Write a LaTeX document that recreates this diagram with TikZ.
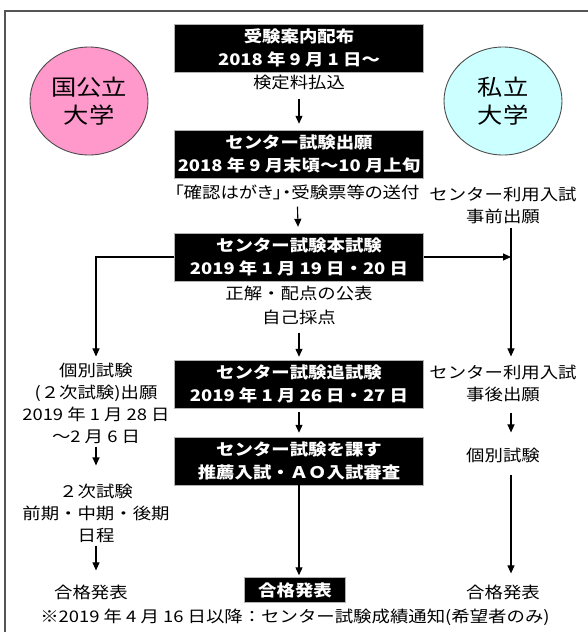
\documentclass[tikz,border=0pt]{standalone}
\usepackage{fontspec}
\usetikzlibrary{arrows.meta,shapes.geometric}
\newfontfamily\jp[FakeStretch=1.15]{Noto Sans CJK JP}
\newfontfamily\jpprop[FakeStretch=1.15, RawFeature=+palt]{Noto Sans CJK JP}
\definecolor{unipink}{HTML}{FF99CC}
\definecolor{unicyan}{HTML}{CCFFFF}
\definecolor{framegray}{HTML}{555555}

\begin{document}
\begin{tikzpicture}[
        x=1pt, y=-1pt,
        stagebox/.style={rectangle, draw=gray!60, fill=black, text=white, minimum width=249pt, minimum height=48pt, inner sep=1pt, align=center, font=\jp\bfseries\fontsize{16}{23}\selectfont},
        note/.style={align=center, inner sep=1pt, font=\jp\fontsize{16}{22}\selectfont},
        uni/.style={ellipse, draw=gray!60!black, line width=0.9pt, minimum width=118pt, minimum height=108pt, align=center, font=\jp\fontsize{22}{28}\selectfont},
        arrow/.style={-{Triangle[length=8pt,width=7pt]}, line width=1.1pt, shorten <=4pt, shorten >=4pt}
    ]
        \clip (0,0) rectangle (588,632);
        \draw[framegray, line width=1.5pt] (5,11) rectangle (600,650);

        % Universities
        \node[uni, fill=unipink] (national) at (89,101) {国公立\\大学};
        \node[uni, fill=unicyan] (private) at (503,101) {私立\\大学};

        % Center column
        \node[stagebox] (guide) at (299,48) {受験案内配布\\2018 年 9 月 1 日～};
        \node[note] (fee) at (299,82) {検定料払込};
        \node[stagebox] (apply) at (299,154) {センター試験出願\\2018 年 9 月末頃～10 月上旬};
        \node[note, font=\jpprop\fontsize{16}{22}\selectfont] (card) at (297,192) {「確認はがき」・受験票等の送付};
        \node[stagebox] (main) at (299,257) {センター試験本試験\\2019 年 1 月 19 日・20 日};
        \node[note, font=\jp\fontsize{16}{24}\selectfont] (answer) at (299,305) {正解・配点の公表\\自己採点};
        \node[stagebox] (makeup) at (299,384) {センター試験追試験\\2019 年 1 月 26 日・27 日};
        \node[stagebox] (suisen) at (299,461) {センター試験を課す\\推薦入試・ＡＯ入試審査};
        \node[stagebox, minimum width=101pt, minimum height=25pt] (pass) at (295,590) {合格発表};
        \node[note] (notice) at (295,617) {※2019 年 4 月 16 日以降：センター試験成績通知(希望者のみ)};

        % Left column
        \node[note] (kobetsu) at (96,403) {個別試験\\(２次試験)出願\\2019 年 1 月 28 日\\～2 月 6 日};
        \node[note] (niji) at (96,513) {２次試験\\前期・中期・後期\\日程};
        \node[note] (passL) at (91,592) {合格発表};

        % Right column
        \node[note] (pre) at (503,205) {センター利用入試\\事前出願};
        \node[note] (post) at (503,383) {センター利用入試\\事後出願};
        \node[note] (kobetsuR) at (503,455) {個別試験};
        \node[note] (passR) at (503,592) {合格発表};
        \coordinate (rline) at (511,0);

        % Arrows
        \draw[arrow, shorten <=8pt, shorten >=6pt] (fee) -- (apply);
        \draw[arrow, shorten <=6pt, shorten >=6pt] (card) -- (main);
        \draw[arrow, shorten <=7pt, shorten >=3pt] (answer) -- (makeup);
        \draw[arrow] (makeup) -- (suisen);
        \draw[arrow, shorten <=0pt, shorten >=2pt] (suisen.south) -- (suisen.south |- pass.north);
        \draw[arrow, shorten <=0pt, shorten >=5pt] (main.west) -| (kobetsu.north);
        \draw[arrow, shorten <=2pt, shorten >=17pt] (kobetsu) -- (kobetsu |- niji.north);
        \draw[arrow, shorten <=2pt, shorten >=13pt] (niji) -- (niji |- passL.north);
        \draw[arrow, shorten <=0pt, shorten >=0pt] (main.east) -- (main.east -| rline);
        \draw[arrow, shorten <=3pt, shorten >=7pt] (pre.south -| rline) -- (post.north -| rline);
        \draw[arrow, shorten <=10pt, shorten >=14pt] (post.south -| rline) -- (kobetsuR.north -| rline);
        \draw[arrow, shorten <=11pt, shorten >=10pt] (kobetsuR.south -| rline) -- (passR.north -| rline);

    \end{tikzpicture}
\end{document}
